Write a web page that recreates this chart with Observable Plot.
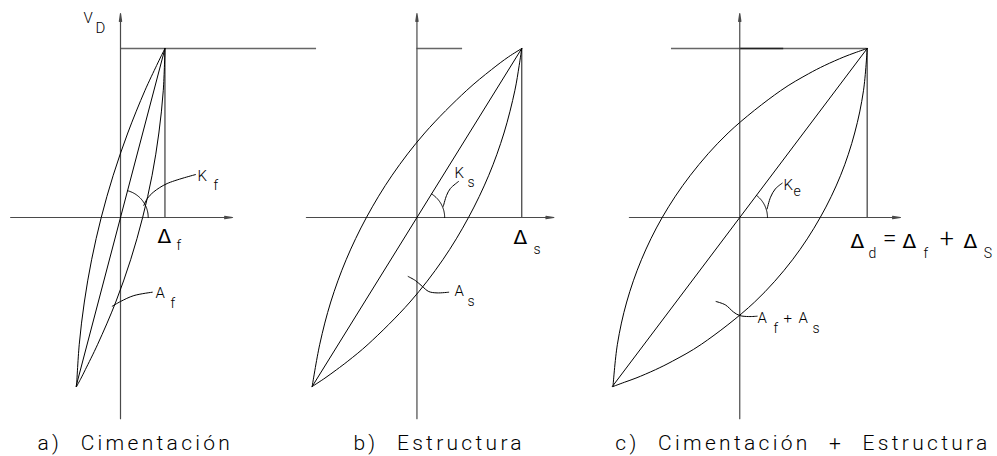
<!DOCTYPE html>
<html>
<head>
<meta charset="utf-8">
<script src="https://cdn.jsdelivr.net/npm/d3@7"></script>
<script src="https://cdn.jsdelivr.net/npm/@observablehq/plot@0.6"></script>
<style>
  html, body { margin: 0; padding: 0; background: #fff; }
  #chart { width: 997px; height: 456px; }
</style>
</head>
<body>
<div id="chart"></div>
<script>
// Force–displacement hysteresis loops: foundation, structure and combined system.
// Force V in percent of V_D, displacement in the same drawing units.

const panels = ["a", "b", "c"];
const captions = ["a) Cimentación", "b) Estructura", "c) Cimentación + Estructura"];

// peak displacement of each loop (Δf, Δs, Δd) at V = V_D = 100
const peakDisp = [26.3, 62, 75.4];

// upper branch (left side) of each loop, [displacement, force]
const upperA = [[-26, -100], [-24.4, -75], [-21.4, -50], [-17.1, -25], [-11.4, 0], [-4.3, 25], [4.3, 50], [14.4, 75], [21.4, 90], [23.8, 95], [26.3, 100]];
const upperB = [[-62, -100], [-57.5, -75], [-51, -50], [-41.9, -25], [-29.9, 0], [-14.7, 25], [4.6, 50], [29.2, 75], [44.1, 87.5], [54.1, 95], [62, 100]];
const upperC = [[-75, -100], [-72.4, -75], [-66.9, -50], [-58.2, -25], [-45.9, 0], [-29.2, 25], [-6.9, 50], [24.1, 75], [40.6, 85], [50.3, 90], [61.6, 95], [68.2, 97.5], [75.4, 100]];

// lower branch (right side) of each loop
const lowerA = [[-26, -100], [-23.3, -95], [-20.8, -90], [-13.5, -75], [-2.8, -50], [6, -25], [13.1, 0], [18.7, 25], [22.7, 50], [25.3, 75], [26.3, 100]];
const lowerB = [[-62, -100], [-54.4, -95], [-47.5, -90], [-40.9, -85], [-28.9, -75], [-4.1, -50], [15.3, -25], [30.5, 0], [42.5, 25], [51.5, 50], [57.9, 75], [60.5, 90], [62, 100]];
const lowerC = [[-75, -100], [-68.3, -97.5], [-61.4, -95], [-49.8, -90], [-39.8, -85], [-22.7, -75], [8.8, -50], [31.2, -25], [47.6, 0], [59.7, 25], [68, 50], [73.2, 75], [75.4, 100]];

// leader lines from the labels to the loops
const leaderK = {
  a: [[13.8, 7.1], [15.8, 11.1], [19.7, 15.2], [27.6, 20.1], [44.4, 25.4]],
  b: [[15.6, 6.6], [17.5, 13], [19.8, 17.2], [24.6, 21.3]],
  c: [[16.2, 5.1], [18.2, 12], [21.1, 17], [25.1, 20.3]]
};
const leaderA = {
  a: [[-4.9, -52.5], [0, -49.7], [7.9, -46.2], [18.8, -44.2]],
  b: [[-5.2, -34.9], [-0.9, -37.3], [3.1, -40.7], [7, -43.8], [11.9, -44.6], [18.8, -44.2]],
  c: [[-14, -49.7], [-8.5, -51.7], [-3.6, -56], [0, -58], [5.3, -58.6], [10.3, -58.4]]
};

// axis extents per panel (left end of Δ axis, right end, bottom / top of V axis)
const axisLeft = [-65, -65.4, -65.3];
const axisRight = [66.3, 81, 95.1];
const axisBottom = -119;
const axisTop = 120.7;

// construction line at V = V_D
const topLine = [[0, 116], [0, 27], [-40.4, 75.4]];
const topLineDark = { c: [0, 26] };

// panel origins along the drawing
const panelOrigin = { a: 0, b: 175.4, c: 366.4 };

// text pieces (subscripts set separately)
const annotations = [
  { panel: "a", text: "V", x: -21.9, y: 114.8, kind: "label" },
  { panel: "a", text: "D", x: -14.8, y: 108.9, kind: "label" },
  { panel: "a", text: "K", x: 45.6, y: 21.9, kind: "label" },
  { panel: "a", text: "f", x: 55, y: 16, kind: "sub" },
  { panel: "a", text: "Δ", x: 21.9, y: -14.8, kind: "delta" },
  { panel: "a", text: "f", x: 33.1, y: -19.5, kind: "sub" },
  { panel: "a", text: "A", x: 20.7, y: -47.9, kind: "label" },
  { panel: "a", text: "f", x: 29.6, y: -53.3, kind: "sub" },
  { panel: "b", text: "K", x: 22.2, y: 23.1, kind: "label" },
  { panel: "b", text: "s", x: 29.9, y: 17.8, kind: "sub" },
  { panel: "b", text: "A", x: 22.2, y: -46.2, kind: "label" },
  { panel: "b", text: "s", x: 29.9, y: -52.1, kind: "sub" },
  { panel: "b", text: "Δ", x: 57.1, y: -15.4, kind: "delta" },
  { panel: "b", text: "s", x: 68.9, y: -21.3, kind: "sub" },
  { panel: "c", text: "K", x: 25.9, y: 16, kind: "label" },
  { panel: "c", text: "e", x: 31.8, y: 13, kind: "sub" },
  { panel: "c", text: "A", x: 10.5, y: -62.7, kind: "label" },
  { panel: "c", text: "f", x: 19.9, y: -68.6, kind: "sub" },
  { panel: "c", text: "+", x: 25.9, y: -62.7, kind: "label" },
  { panel: "c", text: "A", x: 34.7, y: -62.7, kind: "label" },
  { panel: "c", text: "s", x: 43, y: -68.6, kind: "sub" },
  { panel: "c", text: "Δ", x: 65.5, y: -18.3, kind: "delta" },
  { panel: "c", text: "d", x: 76.1, y: -23.7, kind: "sub" },
  { panel: "c", text: "=", x: 84.6, y: -17.5, kind: "op" },
  { panel: "c", text: "Δ", x: 96.3, y: -18.3, kind: "delta" },
  { panel: "c", text: "f", x: 108.7, y: -23.7, kind: "sub" },
  { panel: "c", text: "+", x: 118.4, y: -17.5, kind: "op" },
  { panel: "c", text: "Δ", x: 132.4, y: -18.3, kind: "delta" },
  { panel: "c", text: "S", x: 144.3, y: -23.7, kind: "sub" }
];
const captionX = [-49.1, -37.6, -73.6];
const captionY = -137.3;

// ---- build mark data -------------------------------------------------------
const upper = { a: upperA, b: upperB, c: upperC };
const lower = { a: lowerA, b: lowerB, c: lowerC };

const curves = [];
const secants = [];
panels.forEach((p, i) => {
  const o = panelOrigin[p];
  upper[p].forEach(([x, y]) => curves.push({ id: p + "-up", x: o + x, y }));
  lower[p].forEach(([x, y]) => curves.push({ id: p + "-low", x: o + x, y }));
  // secant stiffness line through the two loop tips
  const d = peakDisp[i];
  secants.push({ id: p, x: o - d, y: -100 }, { id: p, x: o + d, y: 100 });
});

const leaders = [];
panels.forEach(p => {
  const o = panelOrigin[p];
  leaderK[p].forEach(([x, y]) => leaders.push({ id: p + "-K", x: o + x, y }));
  leaderA[p].forEach(([x, y]) => leaders.push({ id: p + "-A", x: o + x, y }));
});

// angle marker between the Δ axis and the secant line
const arcRadius = 16.4;
const arcs = [];
panels.forEach((p, i) => {
  const o = panelOrigin[p];
  const theta = Math.atan2(100, peakDisp[i]);
  d3.range(0, 41).forEach(k => {
    const a = theta * k / 40;
    arcs.push({ id: p, x: o + arcRadius * Math.cos(a), y: arcRadius * Math.sin(a) });
  });
});

const hAxes = panels.map((p, i) => ({ x1: panelOrigin[p] + axisLeft[i], x2: panelOrigin[p] + axisRight[i], y1: 0, y2: 0 }));
const vAxes = panels.map(p => ({ x1: panelOrigin[p], x2: panelOrigin[p], y1: axisBottom, y2: axisTop }));
const tops = panels.map((p, i) => ({ x1: panelOrigin[p] + topLine[i][0], x2: panelOrigin[p] + topLine[i][1], y: 100 }));
const topsDark = [{ x1: panelOrigin.c + topLineDark.c[0], x2: panelOrigin.c + topLineDark.c[1], y: 100 }];
const drops = panels.map((p, i) => ({ x: panelOrigin[p] + peakDisp[i], y1: 0, y2: 100 }));

const texts = annotations.map(d => ({ ...d, x: panelOrigin[d.panel] + d.x }));
const captionRows = panels.map((p, i) => ({ text: captions[i], x: panelOrigin[p] + captionX[i], y: captionY }));

const labelFont = "Roboto, 'Open Sans', 'DejaVu Sans', sans-serif";
const gray = "#4a4a4a";
const textOpts = { x: "x", y: "y", text: "text", textAnchor: "start", lineAnchor: "bottom", fill: "#000" };

const chart = Plot.plot({
  width: 997,
  height: 456,
  margin: 0,
  x: { domain: [-71, 518.9], axis: null },
  y: { domain: [-141.4, 128.4], axis: null },
  style: { background: "#fff", overflow: "visible" },
  marks: [
    // construction lines
    Plot.ruleY(tops, { y: "y", x1: "x1", x2: "x2", stroke: "#666", strokeWidth: 1.3 }),
    Plot.ruleY(topsDark, { y: "y", x1: "x1", x2: "x2", stroke: "#222", strokeWidth: 1.3 }),
    Plot.ruleX(drops, { x: "x", y1: "y1", y2: "y2", stroke: gray, strokeWidth: 1.3 }),
    // axes with arrowheads
    Plot.arrow(hAxes, { x1: "x1", y1: "y1", x2: "x2", y2: "y2", stroke: gray, strokeWidth: 1.2, headLength: 10, headAngle: 16 }),
    Plot.arrow(vAxes, { x1: "x1", y1: "y1", x2: "x2", y2: "y2", stroke: gray, strokeWidth: 1.2, headLength: 10, headAngle: 16 }),
    // loops and secants
    Plot.line(curves, { x: "x", y: "y", z: "id", curve: "catmull-rom", stroke: "#000", strokeWidth: 1 }),
    Plot.line(secants, { x: "x", y: "y", z: "id", stroke: "#000", strokeWidth: 1 }),
    // angle markers and leaders
    Plot.line(arcs, { x: "x", y: "y", z: "id", stroke: "#000", strokeWidth: 1 }),
    Plot.line(leaders, { x: "x", y: "y", z: "id", curve: "catmull-rom", stroke: "#000", strokeWidth: 1 }),
    // labels
    Plot.text(texts.filter(d => d.kind === "label"), { ...textOpts, fontSize: 15, fontFamily: labelFont, fontWeight: 300 }),
    Plot.text(texts.filter(d => d.kind === "sub"), { ...textOpts, fontSize: 14, fontFamily: labelFont, fontWeight: 300 }),
    Plot.text(texts.filter(d => d.kind === "op"), { ...textOpts, fontSize: 25, fontFamily: labelFont, fontWeight: 300 }),
    Plot.text(texts.filter(d => d.kind === "delta"), { ...textOpts, fontSize: 20, fontFamily: "'DejaVu Sans', sans-serif" }),
    Plot.text(captionRows, { ...textOpts, fontSize: 21, fontFamily: labelFont, fontWeight: 300, ariaDescription: "captions" })
  ]
});

const cap = chart.querySelector('g[aria-description="captions"]');
if (cap) { cap.style.letterSpacing = "3.3px"; cap.style.wordSpacing = "10px"; }
document.getElementById("chart").append(chart);
</script>
</body>
</html>
